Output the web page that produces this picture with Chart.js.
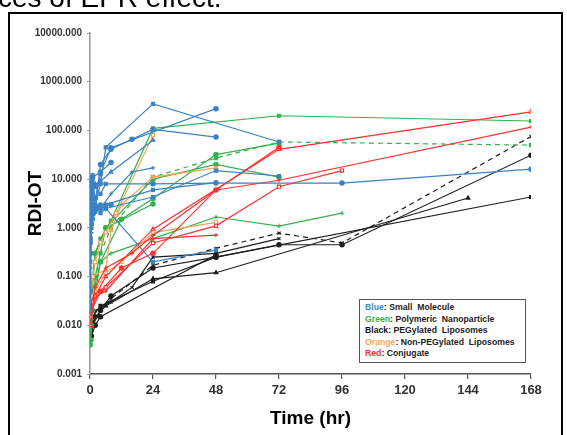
<!DOCTYPE html>
<html>
<head>
<meta charset="utf-8">
<script src="https://cdn.jsdelivr.net/npm/chart.js@4.4.1/dist/chart.umd.min.js"></script>
<style>
  body { margin: 0; background: #fff; overflow: hidden; }
  #wrap { position: relative; width: 567px; height: 435px; }
  #graf { position: absolute; left: 0; top: 0; }
  #frame { position: absolute; left: 8px; top: 12px; width: 551px; height: 460px; border: 2px solid #000; pointer-events: none; }
  #caption { position: absolute; left: -2px; top: -16px; font: 28px Arial, "Liberation Sans", sans-serif; line-height: 28px; color: #000; white-space: nowrap; }
  #leyenda { position: absolute; left: 359px; top: 299px; width: 167px; height: 64px; border: 1.5px solid #555; background: #fff;
    font: bold 8.7px Arial, "Liberation Sans", sans-serif; line-height: 11.6px; padding: 2px 0 0 5px; box-sizing: border-box; white-space: pre; color: #222; }
</style>
</head>
<body>
<div id="wrap">
  <canvas id="graf" width="567" height="435"></canvas>
  <div id="caption">ces of EPR effect.</div>
  <div id="frame"></div>
  <div id="leyenda"><span style="color:#3b8bd0">Blue</span>: Small  Molecule
<span style="color:#2db34a">Green</span>: Polymeric  Nanoparticle
<span style="color:#111">Black</span>: PEGylated  Liposomes
<span style="color:#f7a35c">Orange</span>: Non-PEGylated  Liposomes
<span style="color:#ff2a2a">Red</span>: Conjugate</div>
</div>
<script>
// ejes
const xTicks = [0, 24, 48, 72, 96, 120, 144, 168];
const yTicks = [0.001, 0.01, 0.1, 1, 10, 100, 1000, 10000];

// [hora, RDI-OT]
// azul: small molecule
const blue1 = [[0.25,2],[0.5,9],[1,12],[2,3],[4,8],[6,45],[24,350],[72,58]];
const blue2 = [[0.25,1.5],[0.5,6],[1,4],[2,2.5],[4,20],[8,41],[16,66],[24,105],[48,73]];
const blue3 = [[0.5,3],[1,7],[2,4],[4,13],[8,44],[48,280]];
const blue4 = [[0.25,1],[1,5],[2,8],[4,9],[8,14],[24,63]];
const blue5 = [[0.25,0.8],[1,2],[2,3],[4,2.5],[8,5],[16,14],[24,17]];
const blue6 = [[0.083,4],[0.5,8],[24,8],[48,8.3],[96,8.3],[168,16]];
const blue7 = [[0.25,0.6],[1,1.5],[2,2.5],[4,2],[6,2.5],[24,4.3],[48,15],[72,11.6]];
const blue8 = [[0.5,1],[1,2],[2,2.2],[6,3],[24,6],[48,8.5]];
const blue9 = [[0.25,1],[0.5,2],[1,3],[2,2.5],[4,3],[6,2.5],[24,0.2],[48,0.35]];
const blue10 = [[0.083,0.05],[0.25,0.3],[0.5,1.2],[1,2.2],[2,2.8],[4,2.5],[8,3]];
const blue11 = [[0.083,0.02],[0.25,0.15],[0.5,0.8],[1,1.5],[2,2],[4,3],[6,2.4]];
const blue12 = [[0.083,0.2],[0.25,0.5],[0.5,5],[1,10],[2,7],[4,5],[6,8]];
const blue13 = [[0.083,1],[0.25,3],[0.5,2],[1,11],[4,14],[8,22]];

// verde: polymeric nanoparticle
const green1 = [[0.083,0.01],[0.25,0.02],[0.5,0.05],[1,0.1],[2,0.3],[4,0.6],[8,1.4],[24,110],[72,200],[168,156]];
const green2 = [[0.25,0.01],[1,0.05],[4,0.3],[8,1],[24,11],[48,27],[72,58],[168,50]];
const green3 = [[0.25,0.005],[1,0.02],[4,0.2],[12,1.5],[24,4],[48,32],[72,55]];
const green4 = [[0.5,0.03],[2,0.3],[6,1],[24,10],[48,20],[72,11]];
const green5 = [[0.25,0.008],[1,0.04],[4,0.2],[8,0.3],[24,0.6],[48,1.67],[72,1.09],[96,2]];
const green6 = [[0.083,0.004],[0.5,0.01],[2,0.1],[6,1],[24,3.1]];

// rojo: conjugate
const red1 = [[0.25,0.01],[0.5,0.02],[1,0.03],[2,0.04],[6,0.1],[24,0.94],[72,41],[168,240]];
const red2 = [[0.5,0.02],[1,0.03],[2,0.06],[6,0.15],[16,0.3],[24,0.7],[48,6],[72,9.5],[168,117]];
const red3 = [[0.25,0.015],[1,0.03],[6,0.06],[24,0.49],[48,1.1],[72,7],[96,15]];
const red4 = [[0.5,0.02],[2,0.04],[6,0.05],[24,0.6],[48,0.71]];
const red5 = [[0.5,0.02],[4,0.05],[12,0.15],[24,0.3],[48,6],[72,45]];

// naranja: non-PEGylated liposomes
const orange1 = [[0.25,0.03],[1,0.1],[2,0.2],[4,0.5],[6,0.8],[10,2],[24,80]];
const orange2 = [[0.25,0.05],[1,0.1],[6,0.14],[8,0.9],[12,3],[24,11],[48,17]];
const orange3 = [[0.5,0.04],[2,0.05],[6,0.12],[12,0.2],[24,0.8],[48,1.3]];

// negro: PEGylated liposomes
const black1 = [[0.25,0.006],[1,0.012],[4,0.02],[8,0.035],[24,0.17],[48,0.38],[72,0.78],[96,0.49],[168,75]];
const black2 = [[0.25,0.005],[1,0.01],[4,0.02],[8,0.04],[24,0.15],[48,0.25],[72,0.45],[96,0.45],[168,31]];
const black3 = [[0.5,0.008],[2,0.015],[6,0.025],[24,0.09],[48,0.12],[144,4.1]];
const black4 = [[0.25,0.008],[1,0.015],[4,0.025],[24,0.08],[48,0.25],[168,4.3]];
const black5 = [[0.5,0.01],[2,0.02],[8,0.03],[16,0.06],[24,0.25],[48,0.3],[72,0.6]];
const black6 = [[0.5,0.006],[2,0.01],[4,0.015],[48,0.28]];

const grupos = [
    { color: '#3a82c4', series: [blue1, blue2, blue3, blue4, blue5, blue6, blue7, blue8, blue9, blue10, blue11, blue12, blue13],
      marcas: ['rect', 'circle', 'circle', 'triangle', 'cross', 'circle', 'rect', 'rect', 'rect', 'circle', 'cross', 'rect', 'circle'] },
    { color: '#ff3030', series: [red1, red2, red3, red4, red5],
      marcas: ['triangle', 'cross', 'rect', 'cross', 'circle'], huecos: [0, 2] },
    { color: '#f7a255', series: [orange1, orange2, orange3],
      marcas: ['rect', 'triangle', 'rect'], huecos: [0, 2] },
    { color: '#33b24e', series: [green1, green2, green3, green4, green5, green6],
      marcas: ['rect', 'rect', 'circle', 'circle', 'cross', 'circle'], guiones: [1] },
    { color: '#1e1e1e', series: [black1, black2, black3, black4, black5, black6],
      marcas: ['crossRot', 'circle', 'triangle', 'rect', 'crossRot', 'circle'], guiones: [0] }
];

const datasets = [];
grupos.forEach(g => {
    g.series.forEach((s, i) => {
        const hueco = (g.huecos || []).includes(i);
        datasets.push({
            data: s.map(p => ({ x: p[0], y: p[1] })),
            borderColor: g.color,
            backgroundColor: hueco ? '#fff' : g.color,
            pointBorderColor: g.color,
            pointStyle: g.marcas[i],
            pointRadius: 2.2,
            pointBorderWidth: 1.1,
            borderWidth: 1.2,
            borderDash: (g.guiones || []).includes(i) ? [5, 4] : [],
            tension: 0,
            fill: false
        });
    });
});

const ctx = document.getElementById('graf').getContext('2d');
new Chart(ctx, {
    type: 'line',
    data: { datasets: datasets },
    options: {
        responsive: false,
        animation: false,
        layout: { padding: { top: 33, right: 36, left: 0, bottom: 0 } },
        plugins: { legend: { display: false }, tooltip: { enabled: false } },
        scales: {
            x: {
                type: 'linear',
                min: 0,
                max: 168,
                afterBuildTicks: scale => { scale.ticks = xTicks.map(v => ({ value: v })); },
                afterFit: scale => { scale.height = 61; },
                grid: { drawOnChartArea: false, drawTicks: true, tickLength: 5, color: '#555', lineWidth: 1.2 },
                border: { display: true, color: '#555', width: 1.5 },
                ticks: { color: '#333', padding: 4, font: { family: 'Arial', size: 13, weight: 'bold' } },
                title: { display: true, text: 'Time (hr)', color: '#000', padding: { bottom: 5, top: 0 },
                    font: { family: 'Arial', size: 19, weight: 'bold' } }
            },
            y: {
                type: 'logarithmic',
                min: 0.001,
                max: 10000,
                afterBuildTicks: scale => { scale.ticks = yTicks.map(v => ({ value: v })); },
                afterFit: scale => { scale.width = 90; },
                grid: { drawOnChartArea: false, drawTicks: true, tickLength: 3, color: '#999' },
                border: { display: true, color: '#999', width: 1.5 },
                ticks: { color: '#333', padding: 5, font: { family: 'Arial', size: 10, weight: 'bold' },
                    callback: v => Number(v).toFixed(3) },
                title: { display: true, text: 'RDI-OT', color: '#000', padding: { top: 24, bottom: 0 },
                    font: { family: 'Arial', size: 19, weight: 'bold' } }
            }
        }
    }
});
</script>
</body>
</html>
